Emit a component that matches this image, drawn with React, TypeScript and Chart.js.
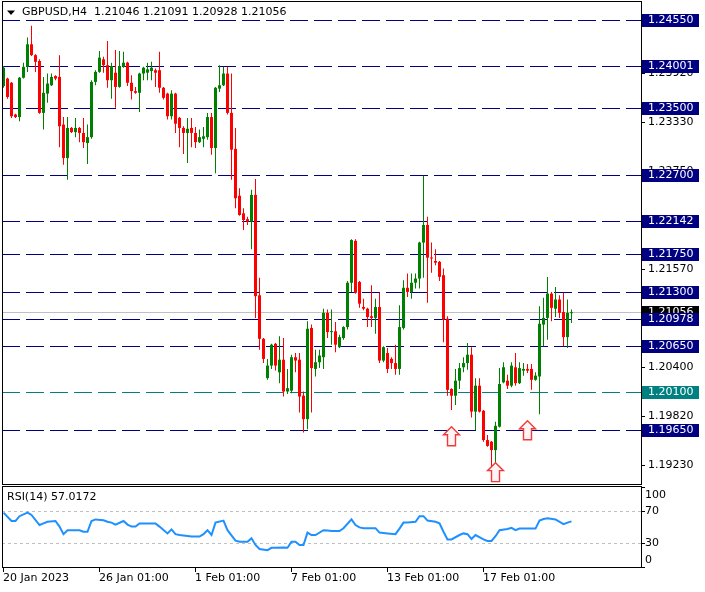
import React, { useEffect, useRef } from "react";
import { Chart, registerables } from "chart.js";
Chart.register(...registerables);

const symbolLabel = "GBPUSD,H4";
const headerValues = "1.21046 1.21091 1.20928 1.21056";

const opens = [
  1.2376, 1.2385, 1.2380, 1.2342, 1.2339, 1.2386, 1.2399, 1.2426, 1.2413, 1.2406,
  1.2344, 1.2367, 1.2377, 1.2388, 1.2387, 1.2330, 1.2290, 1.2326, 1.2321, 1.2326,
  1.2320, 1.2308, 1.2315, 1.2381, 1.2393, 1.2408, 1.2401, 1.2383, 1.2392, 1.2375,
  1.2399, 1.2404, 1.2380, 1.2370, 1.2368, 1.2391, 1.2392, 1.2394, 1.2395, 1.2395,
  1.2374, 1.2367, 1.2340, 1.2367, 1.2338, 1.2326, 1.2320, 1.2326, 1.2320, 1.2309,
  1.2313, 1.2315, 1.2339, 1.2302, 1.2373, 1.2377, 1.2391, 1.2344, 1.2301, 1.2245,
  1.2224, 1.2217, 1.2214, 1.2246, 1.2126, 1.2074, 1.2027, 1.2042, 1.2068, 1.2034,
  1.2049, 1.2011, 1.2012, 1.2052, 1.2049, 1.2006, 1.1978, 1.2087, 1.2038, 1.2046,
  1.2052, 1.2105, 1.2082, 1.2083, 1.2064, 1.2075, 1.2088, 1.2141, 1.2191, 1.2142,
  1.2112, 1.2110, 1.2101, 1.2099, 1.2112, 1.2048, 1.2057, 1.2050, 1.2045, 1.2038,
  1.2087, 1.2135, 1.2130, 1.2141, 1.2146, 1.2189, 1.2210, 1.2171, 1.2167, 1.2166,
  1.2150, 1.2098, 1.2014, 1.2006, 1.2024, 1.2040, 1.2045, 1.2055, 1.1987, 1.2018,
  1.1988, 1.1953, 1.1951, 1.1941, 1.1969, 1.2022, 1.2024, 1.2018, 1.2040, 1.2021,
  1.2036, 1.2038, 1.2038, 1.2025, 1.2029, 1.2091, 1.2099, 1.2128, 1.2110, 1.2121,
  1.2106, 1.2076, 1.21046,
];
const highs = [
  1.2400, 1.2386, 1.2381, 1.2343, 1.2387, 1.2404, 1.2434, 1.2448, 1.2414, 1.2408,
  1.2387, 1.2391, 1.2391, 1.2389, 1.2413, 1.2339, 1.2339, 1.2327, 1.2338, 1.2327,
  1.2338, 1.2330, 1.2383, 1.2395, 1.2418, 1.2411, 1.2430, 1.2404, 1.2419, 1.2418,
  1.2417, 1.2405, 1.2389, 1.2375, 1.2392, 1.2399, 1.2404, 1.2405, 1.2397, 1.2417,
  1.2375, 1.2368, 1.2371, 1.2368, 1.2339, 1.2328, 1.2338, 1.2338, 1.2327, 1.2324,
  1.2327, 1.2344, 1.2344, 1.2375, 1.2401, 1.2399, 1.2399, 1.2391, 1.2326, 1.2254,
  1.2230, 1.2220, 1.2252, 1.2265, 1.2147, 1.2075, 1.2050, 1.2068, 1.2069, 1.2077,
  1.2075, 1.2038, 1.2055, 1.2057, 1.2057, 1.2011, 1.2095, 1.2091, 1.2061, 1.2061,
  1.2110, 1.2109, 1.2109, 1.2094, 1.2079, 1.2089, 1.2143, 1.2193, 1.2193, 1.2143,
  1.2122, 1.2111, 1.2138, 1.2122, 1.2129, 1.2065, 1.2063, 1.2052, 1.2067, 1.2114,
  1.2144, 1.2152, 1.2152, 1.2152, 1.2190, 1.2269, 1.2220, 1.2189, 1.2181, 1.2167,
  1.2158, 1.2101, 1.2015, 1.2038, 1.2045, 1.2052, 1.2069, 1.2064, 1.2027, 1.2027,
  1.1989, 1.1959, 1.1952, 1.1975, 1.2039, 1.2046, 1.2031, 1.2046, 1.2057, 1.2046,
  1.2045, 1.2044, 1.2044, 1.2034, 1.2113, 1.2123, 1.2148, 1.2130, 1.2136, 1.2126,
  1.2129, 1.2121, 1.21091,
];
const lows = [
  1.2374, 1.2361, 1.2338, 1.2338, 1.2334, 1.2385, 1.2393, 1.2412, 1.2393, 1.2343,
  1.2324, 1.2356, 1.2376, 1.2383, 1.2303, 1.2282, 1.2264, 1.2320, 1.2315, 1.2309,
  1.2302, 1.2283, 1.2313, 1.2377, 1.2392, 1.2392, 1.2374, 1.2361, 1.2350, 1.2374,
  1.2398, 1.2376, 1.2360, 1.2367, 1.2345, 1.2383, 1.2383, 1.2383, 1.2375, 1.2368,
  1.2360, 1.2336, 1.2336, 1.2320, 1.2303, 1.2295, 1.2284, 1.2303, 1.2302, 1.2308,
  1.2303, 1.2312, 1.2294, 1.2272, 1.2369, 1.2376, 1.2342, 1.2264, 1.2230, 1.2221,
  1.2204, 1.2210, 1.2181, 1.2099, 1.2061, 1.2045, 1.2025, 1.2038, 1.2036, 1.2021,
  1.2005, 1.2008, 1.2009, 1.2034, 1.1986, 1.1962, 1.1966, 1.1986, 1.2029, 1.2039,
  1.2038, 1.2075, 1.2067, 1.2058, 1.2063, 1.2073, 1.2085, 1.2130, 1.2128, 1.2111,
  1.2108, 1.2088, 1.2088, 1.2080, 1.2045, 1.2046, 1.2033, 1.2038, 1.2031, 1.2031,
  1.2085, 1.2124, 1.2122, 1.2134, 1.2134, 1.2147, 1.2117, 1.2153, 1.2162, 1.2143,
  1.2070, 1.2006, 1.1989, 1.1995, 1.2014, 1.2034, 1.2037, 1.1980, 1.1965, 1.1986,
  1.1951, 1.1945, 1.1921, 1.1921, 1.1968, 1.2021, 1.2014, 1.2016, 1.2018, 1.2020,
  1.2030, 1.2033, 1.2013, 1.2024, 1.1984, 1.2065, 1.2073, 1.2095, 1.2100, 1.2099,
  1.2065, 1.2063, 1.20928,
];
const closes = [
  1.2398, 1.2363, 1.2340, 1.2339, 1.2386, 1.2399, 1.2426, 1.2413, 1.2405, 1.2344,
  1.2368, 1.2379, 1.2387, 1.2385, 1.2328, 1.2290, 1.2326, 1.2321, 1.2326, 1.2320,
  1.2309, 1.2315, 1.2381, 1.2393, 1.2410, 1.2401, 1.2383, 1.2400, 1.2375, 1.2400,
  1.2404, 1.2380, 1.2370, 1.2368, 1.2391, 1.2398, 1.2396, 1.2398, 1.2392, 1.2374,
  1.2362, 1.2340, 1.2367, 1.2331, 1.2326, 1.2320, 1.2325, 1.2320, 1.2309, 1.2315,
  1.2316, 1.2339, 1.2302, 1.2374, 1.2377, 1.2391, 1.2344, 1.2300, 1.2242, 1.2222,
  1.2216, 1.2214, 1.2246, 1.2125, 1.2074, 1.2050, 1.2042, 1.2067, 1.2042, 1.2049,
  1.2011, 1.2015, 1.2052, 1.2048, 1.2005, 1.1978, 1.2086, 1.2039, 1.2046, 1.2054,
  1.2105, 1.2082, 1.2083, 1.2067, 1.2076, 1.2088, 1.2141, 1.2192, 1.2129, 1.2116,
  1.2110, 1.2100, 1.2099, 1.2112, 1.2048, 1.2064, 1.2038, 1.2045, 1.2038, 1.2088,
  1.2135, 1.2130, 1.2141, 1.2146, 1.2189, 1.2210, 1.2171, 1.2170, 1.2165, 1.2148,
  1.2097, 1.2013, 1.2006, 1.2024, 1.2039, 1.2045, 1.2055, 1.1987, 1.2018, 1.1987,
  1.1953, 1.1946, 1.1941, 1.1970, 1.2020, 1.2040, 1.2018, 1.2042, 1.2021, 1.2039,
  1.2038, 1.2036, 1.2025, 1.2030, 1.2092, 1.2099, 1.2128, 1.2111, 1.2121, 1.2105,
  1.2076, 1.2105, 1.21056,
];

const levelPrices = [1.2455, 1.24001, 1.235, 1.227, 1.22142, 1.2175, 1.213, 1.20978, 1.2065, 1.201, 1.1965];
const levelColors = ["#000080", "#000080", "#000080", "#000080", "#000080", "#000080", "#000080", "#000080", "#000080", "#008080", "#000080"];
const priceTicks = [1.2451, 1.2392, 1.2333, 1.2275, 1.2216, 1.2157, 1.2099, 1.204, 1.1982, 1.1923];
const currentPrice = 1.21056;

const timeTickIdx = [0, 24, 48, 72, 96, 120];
const timeTickLabels = ["20 Jan 2023", "26 Jan 01:00", "1 Feb 01:00", "7 Feb 01:00", "13 Feb 01:00", "17 Feb 01:00"];

const arrowIdx = [112, 123, 131];
const arrowPrice = [1.1969, 1.1926, 1.1976];

const rsiLabel = "RSI(14) 57.0172";
const rsiIdx = [
  0, 2, 3, 4, 6, 7, 9, 10, 11, 13, 14, 15, 16, 19, 20, 21, 22, 23, 25, 26,
  27, 28, 30, 31, 32, 33, 34, 38, 39, 41, 42, 43, 44, 47, 49, 50, 51, 52, 53, 55,
  56, 58, 59, 61, 62, 63, 64, 66, 67, 68, 70, 71, 72, 73, 74, 75, 76, 77, 78, 80,
  81, 82, 84, 85, 87, 88, 89, 90, 93, 94, 96, 98, 99, 100, 101, 103, 104, 105, 106, 108,
  109, 110, 111, 112, 114, 115, 116, 117, 118, 120, 121, 122, 123, 124, 126, 127, 128, 129, 131, 132,
  133, 134, 135, 136, 138, 140, 141, 142,
];
const rsiVal = [
  68, 57.5, 57.5, 63.5, 68, 65, 52.5, 54.5, 56.5, 57.5, 50.5, 41, 46, 46, 44, 44, 57.5, 59.5, 58.5, 56.5,
  55.5, 53, 57.5, 53, 50.5, 50.5, 54.5, 54.5, 50.5, 42, 47, 41, 40, 38, 38, 41, 46, 40, 55.5, 58,
  46, 33, 31.5, 31.5, 36, 27.5, 22.5, 21, 24, 24, 24.5, 24, 31.5, 31.5, 27.5, 27.5, 43, 40, 40, 46,
  45.5, 45, 45, 48.5, 59.5, 52.5, 49.5, 48.5, 48.5, 43, 42, 41, 48, 55.5, 55.5, 56.5, 63.5, 63.5, 58, 56.5,
  54.5, 44, 34.5, 34.5, 40, 42, 41, 35, 40, 34.5, 32.5, 32.5, 38.5, 46, 47.5, 49, 46, 48, 48, 48,
  48, 58, 60, 61, 59.5, 53.5, 55.5, 57,
];
const rsiLevels = [70, 30];
const rsiAxisTicks = [100, 70, 30, 0];

const FONT = '11px "DejaVu Sans"';
const X_MIN = -0.375;
const X_MAX = 159.375;

function drawArrow(ctx: CanvasRenderingContext2D, cx: number, ty: number) {
  ctx.beginPath();
  ctx.moveTo(cx, ty);
  ctx.lineTo(cx + 8, ty + 8);
  ctx.lineTo(cx + 4, ty + 8);
  ctx.lineTo(cx + 4, ty + 19);
  ctx.lineTo(cx - 4, ty + 19);
  ctx.lineTo(cx - 4, ty + 8);
  ctx.lineTo(cx - 8, ty + 8);
  ctx.closePath();
  ctx.fillStyle = "#fff4f4";
  ctx.fill();
  ctx.strokeStyle = "#f03a3a";
  ctx.lineWidth = 1.4;
  ctx.stroke();
}

const mainPlugin = {
  id: "mainDecor",
  beforeDatasetsDraw(chart: any) {
    const { ctx, chartArea: a, scales } = chart;
    const y = scales.y;
    ctx.save();
    ctx.lineWidth = 1;
    const cy = Math.round(y.getPixelForValue(currentPrice)) + 0.5;
    ctx.strokeStyle = "#C0C0C0";
    ctx.beginPath();
    ctx.moveTo(a.left, cy);
    ctx.lineTo(a.right, cy);
    ctx.stroke();
    ctx.setLineDash([18, 6]);
    levelPrices.forEach((p, k) => {
      const ly = Math.round(y.getPixelForValue(p)) + 0.5;
      ctx.strokeStyle = levelColors[k];
      ctx.beginPath();
      ctx.moveTo(a.left, ly);
      ctx.lineTo(a.right, ly);
      ctx.stroke();
    });
    ctx.restore();
  },
  afterDraw(chart: any) {
    const { ctx, chartArea: a, scales } = chart;
    const x = scales.x;
    const y = scales.y;
    ctx.save();
    // arrows
    arrowIdx.forEach((ix, k) => {
      drawArrow(ctx, x.getPixelForValue(ix), y.getPixelForValue(arrowPrice[k]));
    });
    // border
    ctx.strokeStyle = "#000";
    ctx.lineWidth = 1;
    ctx.strokeRect(a.left + 0.5, a.top + 0.5, a.right - a.left - 1 + 1, a.bottom - a.top);
    // header
    ctx.fillStyle = "#000";
    ctx.beginPath();
    ctx.moveTo(7, 10.5);
    ctx.lineTo(15, 10.5);
    ctx.lineTo(11, 15);
    ctx.closePath();
    ctx.fill();
    ctx.font = FONT;
    ctx.textBaseline = "middle";
    ctx.textAlign = "left";
    ctx.fillText(symbolLabel, 22, 12.5);
    ctx.fillText(headerValues, 94, 12.5);
    // right axis ticks
    priceTicks.forEach((p) => {
      const ty = Math.round(y.getPixelForValue(p)) + 0.5;
      ctx.strokeStyle = "#000";
      ctx.beginPath();
      ctx.moveTo(a.right, ty);
      ctx.lineTo(a.right + 4, ty);
      ctx.stroke();
      ctx.fillStyle = "#000";
      ctx.fillText(p.toFixed(5), 648, ty);
    });
    // current price box
    const cy = Math.round(y.getPixelForValue(currentPrice));
    ctx.fillStyle = "#000";
    ctx.fillRect(a.right + 1, cy - 6, 57, 13);
    ctx.fillStyle = "#fff";
    ctx.fillText(currentPrice.toFixed(5), 648, cy + 0.5);
    // level boxes
    levelPrices.forEach((p, k) => {
      const ly = Math.round(y.getPixelForValue(p));
      ctx.fillStyle = levelColors[k];
      ctx.fillRect(a.right + 1, ly - 6, 57, 13);
      ctx.fillStyle = "#fff";
      ctx.fillText(p.toFixed(5), 648, ly + 0.5);
    });
    ctx.restore();
  },
};

const rsiPlugin = {
  id: "rsiDecor",
  beforeDatasetsDraw(chart: any) {
    const { ctx, chartArea: a, scales } = chart;
    const y = scales.y;
    ctx.save();
    ctx.strokeStyle = "#C0C0C0";
    ctx.lineWidth = 1;
    ctx.setLineDash([3, 3]);
    rsiLevels.forEach((v) => {
      const ly = Math.round(y.getPixelForValue(v)) + 0.5;
      ctx.beginPath();
      ctx.moveTo(a.left, ly);
      ctx.lineTo(a.right, ly);
      ctx.stroke();
    });
    ctx.restore();
  },
  afterDraw(chart: any) {
    const { ctx, chartArea: a, scales } = chart;
    const x = scales.x;
    const y = scales.y;
    ctx.save();
    ctx.strokeStyle = "#000";
    ctx.lineWidth = 1;
    ctx.strokeRect(a.left + 0.5, a.top + 0.5, a.right - a.left, a.bottom - a.top);
    ctx.font = FONT;
    ctx.fillStyle = "#000";
    ctx.textBaseline = "middle";
    ctx.textAlign = "left";
    ctx.fillText(rsiLabel, 7, a.top + 11.5);
    rsiAxisTicks.forEach((v) => {
      const py = Math.round(y.getPixelForValue(v)) + 0.5;
      ctx.beginPath();
      ctx.moveTo(a.right, py);
      ctx.lineTo(a.right + 4, py);
      ctx.stroke();
      const ty = Math.min(Math.max(py, a.top + 9), a.bottom - 7);
      ctx.fillText(String(v), 645, ty);
    });
    timeTickIdx.forEach((ix, k) => {
      const px = Math.floor(x.getPixelForValue(ix)) + 0.5;
      ctx.beginPath();
      ctx.moveTo(px, a.bottom + 1);
      ctx.lineTo(px, a.bottom + 5);
      ctx.stroke();
      ctx.fillText(timeTickLabels[k], px - 0.5, a.bottom + 11.5);
    });
    ctx.restore();
  },
};

export default function App() {
  const mainRef = useRef<HTMLCanvasElement>(null);
  const rsiRef = useRef<HTMLCanvasElement>(null);

  useEffect(() => {
    const idx = opens.map((_, i) => i);
    const colors = idx.map((i) => (closes[i] >= opens[i] ? "#008000" : "#FF0000"));
    const c1 = new Chart(mainRef.current as HTMLCanvasElement, {
      type: "bar",
      data: {
        datasets: [
          {
            data: idx.map((i) => ({ x: i, y: [lows[i], highs[i]] })) as any,
            backgroundColor: colors,
            borderWidth: 0,
            barThickness: 1,
            grouped: false,
            inflateAmount: 0,
          } as any,
          {
            data: idx.map((i) => ({ x: i, y: [Math.min(opens[i], closes[i]), Math.max(opens[i], closes[i])] })) as any,
            backgroundColor: colors,
            borderWidth: 0,
            barThickness: 3,
            minBarLength: 1,
            grouped: false,
            inflateAmount: 0,
          } as any,
        ],
      },
      options: {
        responsive: false,
        animation: false,
        devicePixelRatio: 1,
        layout: { padding: { left: 2, right: 64, top: 1, bottom: 2 } },
        scales: {
          x: { type: "linear", min: X_MIN, max: X_MAX, display: false, bounds: "data", offset: false,
            afterBuildTicks: (s: any) => { s.ticks = timeTickIdx.map((v) => ({ value: v })); } } as any,
          y: { type: "linear", min: 1.19005, max: 1.24777, display: false, bounds: "data" } as any,
        },
        plugins: { legend: { display: false }, tooltip: { enabled: false } },
      },
      plugins: [mainPlugin],
    } as any);

    const c2 = new Chart(rsiRef.current as HTMLCanvasElement, {
      type: "line",
      data: {
        datasets: [
          {
            data: rsiIdx.map((v, k) => ({ x: v, y: rsiVal[k] })),
            borderColor: "#1E90FF",
            borderWidth: 2,
            pointRadius: 0,
            fill: false,
            tension: 0,
          },
        ],
      },
      options: {
        responsive: false,
        animation: false,
        devicePixelRatio: 1,
        layout: { padding: { left: 2, right: 64, top: 1, bottom: 25 } },
        scales: {
          x: { type: "linear", min: X_MIN, max: X_MAX, display: false, bounds: "data" } as any,
          y: { type: "linear", min: 0, max: 101.25, display: false, bounds: "data" } as any,
        },
        plugins: { legend: { display: false }, tooltip: { enabled: false } },
      },
      plugins: [rsiPlugin],
    } as any);

    return () => {
      c1.destroy();
      c2.destroy();
    };
  }, []);

  return (
    <div style={{ position: "absolute", left: 0, top: 0, width: 705, height: 592, background: "#fff" }}>
      <canvas ref={mainRef} width={705} height={486} style={{ position: "absolute", left: 0, top: 0, width: 705, height: 486 }} />
      <canvas ref={rsiRef} width={705} height={107} style={{ position: "absolute", left: 0, top: 485, width: 705, height: 107 }} />
    </div>
  );
}
